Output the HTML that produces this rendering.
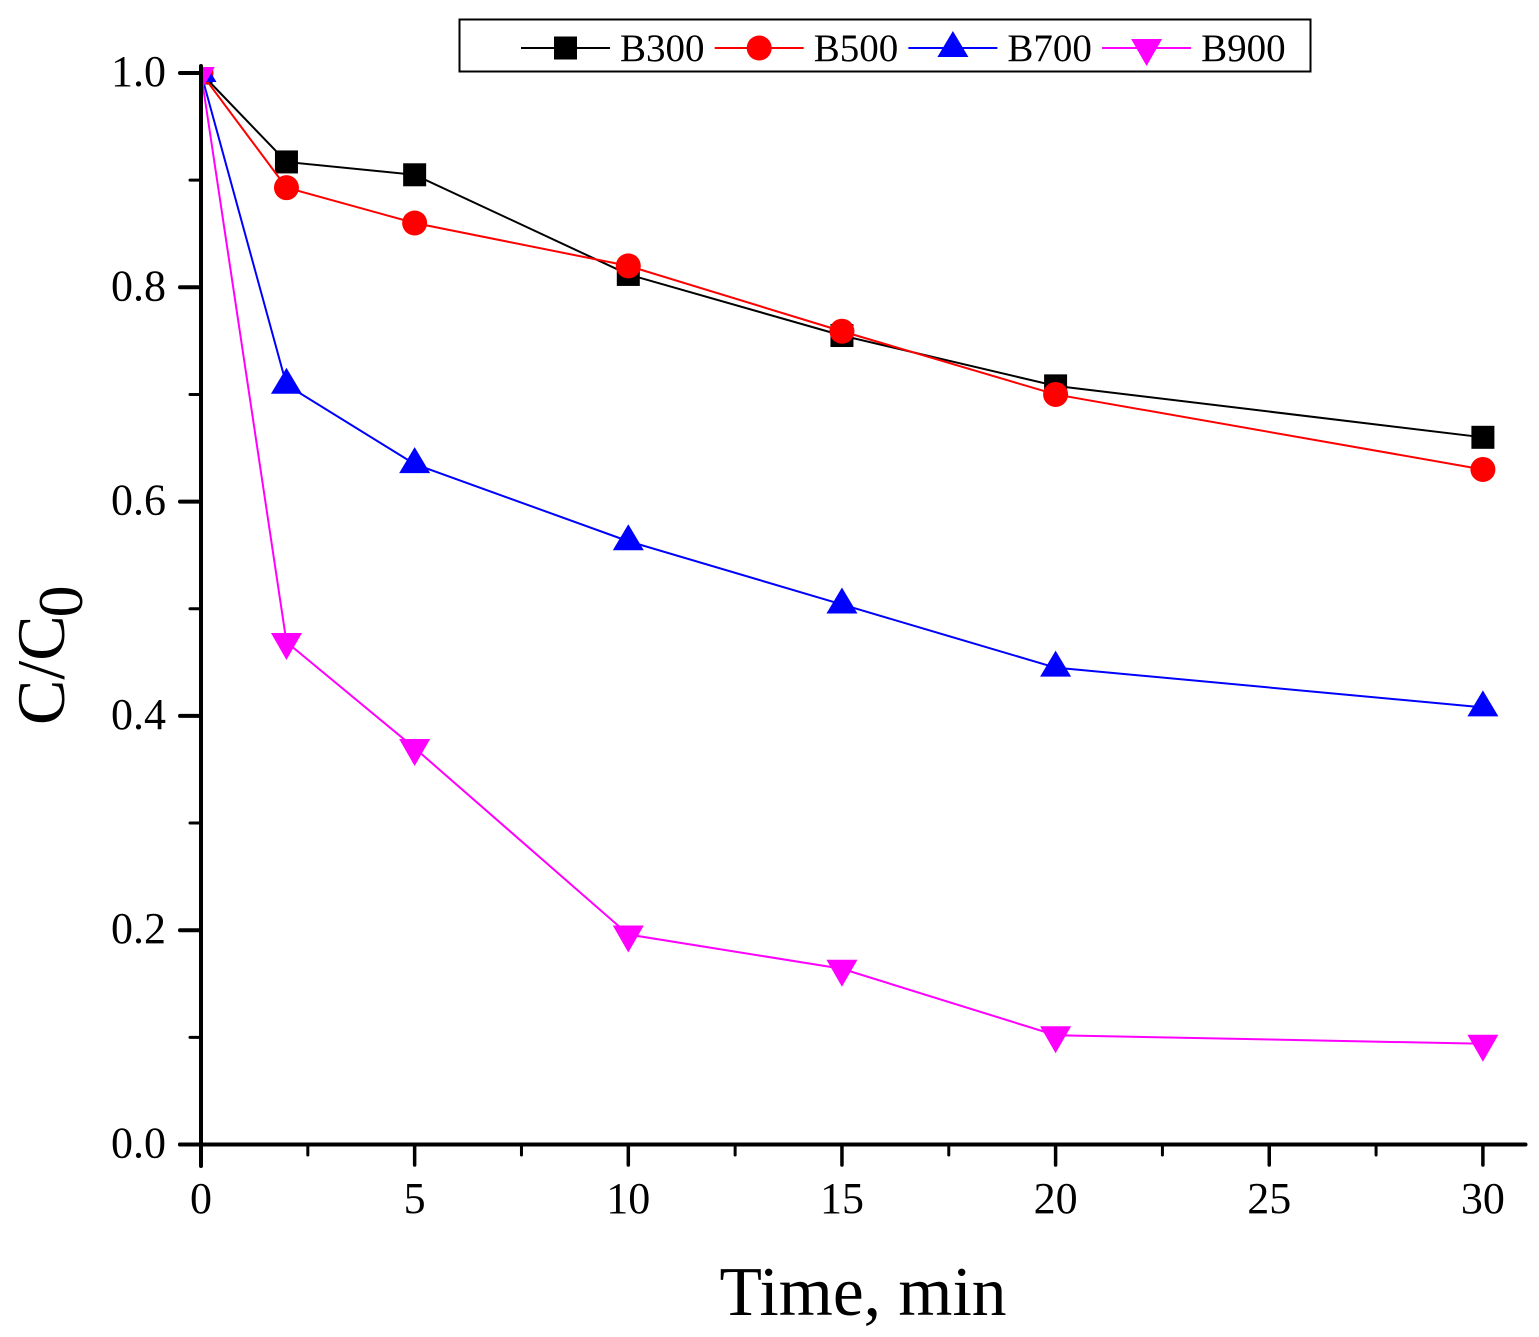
<!DOCTYPE html>
<html>
<head>
<meta charset="utf-8">
<title>C/C0 vs Time</title>
<style>
html,body{margin:0;padding:0;background:#fff;}
svg{display:block;}
text{font-family:"Liberation Serif",serif;fill:#000;}
</style>
</head>
<body>
<svg id="chart" xmlns="http://www.w3.org/2000/svg" width="1539" height="1337" viewBox="0 0 1539 1337">
<defs>
<clipPath id="plot-clip"><rect x="201" y="67" width="1330" height="1080"/></clipPath>
</defs>
<rect x="0" y="0" width="1539" height="1337" fill="#fff"/>
<g id="series-layer" clip-path="url(#plot-clip)"></g>
<g id="axis-layer"></g>
<text x="863" y="1315" font-size="69.5" text-anchor="middle">Time, min</text>
<text transform="translate(64,725) rotate(-90)" font-size="68">C/C<tspan font-size="64" dx="-2" dy="18">0</tspan></text>
<g>
<rect x="459.5" y="19.5" width="851" height="52" fill="#fff" stroke="#000" stroke-width="2"/>
<g id="legend-layer"></g>
</g>
</svg>
<script>
const times = [0, 2, 5, 10, 15, 20, 30];
const seriesNames = ["B300", "B500", "B700", "B900"];
const b300 = [1.0, 0.917, 0.905, 0.812, 0.755, 0.708, 0.660];
const b500 = [1.0, 0.893, 0.860, 0.820, 0.759, 0.700, 0.630];
const b700 = [1.0, 0.709, 0.635, 0.563, 0.504, 0.445, 0.408];
const b900 = [1.0, 0.469, 0.370, 0.196, 0.164, 0.102, 0.094];
const xTickLabels = ["0", "5", "10", "15", "20", "25", "30"];
const yTickLabels = ["0.0", "0.2", "0.4", "0.6", "0.8", "1.0"];
const seriesValues = [b300, b500, b700, b900];
const seriesColors = ["#000000", "#ff0000", "#0000ff", "#ff00ff"];
const seriesShapes = ["square", "circle", "up", "down"];

const NS = "http://www.w3.org/2000/svg";
const xScale = function (v) { return 201 + v * 42.73; };
const yScale = function (v) { return 1144.5 - v * 1071.5; };

function make(tag, attrs, parent) {
  const el = document.createElementNS(NS, tag);
  for (const k in attrs) { el.setAttribute(k, attrs[k]); }
  parent.appendChild(el);
  return el;
}

function drawMarker(shape, cx, cy, color, parent) {
  let el;
  if (shape === "square") {
    el = make("rect", { x: cx - 11.5, y: cy - 11.5, width: 23, height: 23, fill: color }, parent);
  } else if (shape === "circle") {
    el = make("circle", { cx: cx, cy: cy, r: 12.5, fill: color }, parent);
  } else if (shape === "up") {
    el = make("polygon", { points: (cx - 15.5) + "," + (cy + 9) + " " + (cx + 15.5) + "," + (cy + 9) + " " + cx + "," + (cy - 17), fill: color }, parent);
  } else {
    el = make("polygon", { points: (cx - 15.5) + "," + (cy - 9) + " " + (cx + 15.5) + "," + (cy - 9) + " " + cx + "," + (cy + 18), fill: color }, parent);
  }
  return el;
}

const seriesLayer = document.getElementById("series-layer");
seriesValues.forEach(function (vals, s) {
  const g = make("g", {}, seriesLayer);
  
  
  const pts = vals.map(function (v, i) { return xScale(times[i]) + "," + yScale(v); }).join(" ");
  const line = make("polyline", { points: pts, fill: "none", stroke: seriesColors[s], "stroke-width": 2 }, g);
  
  
  vals.forEach(function (v, i) {
    const m = drawMarker(seriesShapes[s], xScale(times[i]), yScale(v), seriesColors[s], g);
    
    
  });
});

const axisLayer = document.getElementById("axis-layer");
const yAxisLine = make("line", { x1: 201, x2: 201, y1: 66, y2: 1166, stroke: "#000", "stroke-width": 4, "stroke-linecap": "round" }, axisLayer);


const xAxisLine = make("line", { x1: 180, x2: 1525.5, y1: 1144.5, y2: 1144.5, stroke: "#000", "stroke-width": 4, "stroke-linecap": "round" }, axisLayer);



xTickLabels.forEach(function (label) {
  const v = parseFloat(label);
  const tick = make("line", { x1: xScale(v), x2: xScale(v), y1: 1144.5, y2: 1165, stroke: "#000", "stroke-width": 3.5, "stroke-linecap": "round" }, axisLayer);
  
  
  const minorV = v + 2.5;
  if (minorV < 31) {
    const minor = make("line", { x1: xScale(minorV), x2: xScale(minorV), y1: 1144.5, y2: 1155, stroke: "#000", "stroke-width": 3, "stroke-linecap": "round" }, axisLayer);
    
    
  }
  const t = make("text", { x: xScale(v), y: 1213, "font-size": 44, "text-anchor": "middle" }, axisLayer);
  t.textContent = label;
  
  
});

yTickLabels.forEach(function (label) {
  const v = parseFloat(label);
  const tick = make("line", { x1: 180, x2: 201, y1: yScale(v), y2: yScale(v), stroke: "#000", "stroke-width": 4, "stroke-linecap": "round" }, axisLayer);
  
  
  if (v < 1) {
    const minor = make("line", { x1: 190, x2: 201, y1: yScale(v + 0.1), y2: yScale(v + 0.1), stroke: "#000", "stroke-width": 3, "stroke-linecap": "round" }, axisLayer);
    
    
  }
  const t = make("text", { x: 166, y: yScale(v) + 13, "font-size": 44, "text-anchor": "end" }, axisLayer);
  t.textContent = label;
  
  
});

const legendLayer = document.getElementById("legend-layer");
seriesNames.forEach(function (name, s) {
  const left = 521 + s * 193.7;
  const g = make("g", {}, legendLayer);
  
  
  const ln = make("line", { x1: left, x2: left + 89, y1: 48, y2: 48, stroke: seriesColors[s], "stroke-width": 2 }, g);
  
  
  const mk = drawMarker(seriesShapes[s], left + 44.5, 48, seriesColors[s], g);
  
  
  const tx = make("text", { x: left + 99, y: 61, "font-size": 39 }, g);
  tx.textContent = name;
  
  
});
</script>
</body>
</html>
